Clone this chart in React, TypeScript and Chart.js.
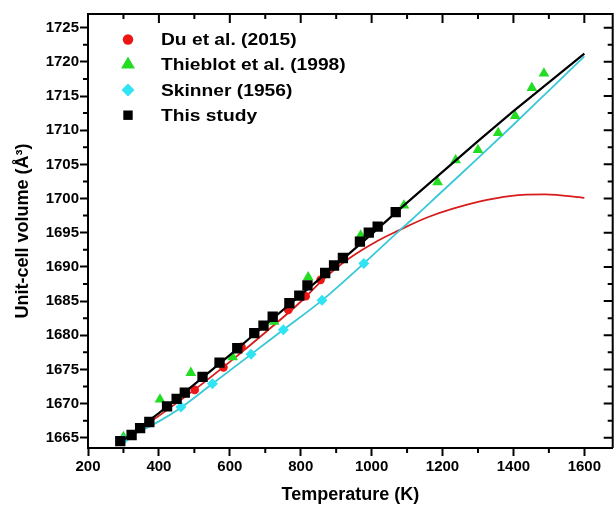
import React, { useEffect, useRef } from "react";
import { Chart, registerables } from "chart.js";

Chart.register(...registerables);

// ---- axes ----
const xRange = [200, 1680];
const yRange = [1663.5, 1727];
const xTicks = [200, 400, 600, 800, 1000, 1200, 1400, 1600];
const xMinorTicks = [300, 500, 700, 900, 1100, 1300, 1500];
const yTicks = [1665, 1670, 1675, 1680, 1685, 1690, 1695, 1700, 1705, 1710, 1715, 1720, 1725];
const yMinorTicks = [1667.5, 1672.5, 1677.5, 1682.5, 1687.5, 1692.5, 1697.5, 1702.5, 1707.5, 1712.5, 1717.5, 1722.5];

const xTitle = "Temperature (K)";
const yTitle = "Unit-cell volume (Å³)";
const seriesNames = ["Du et al. (2015)", "Thieblot et al. (1998)", "Skinner (1956)", "This study"];

// ---- Du et al. (2015) ----
const duT = [501, 582, 633, 765, 814, 856];
const duV = [1672.0, 1675.3, 1678.3, 1683.7, 1685.7, 1688.1];
const duFitT = [290, 400, 500, 600, 700, 800, 860, 930, 1020, 1075, 1160, 1300, 1395, 1490, 1600];
const duFitV = [1664.3, 1668.2, 1672.0, 1676.1, 1680.4, 1684.9, 1688.0, 1691.0, 1693.9, 1695.3, 1697.3, 1699.5, 1700.4, 1700.6, 1700.1];

// ---- Thieblot et al. (1998) ----
const thT = [300, 403, 490, 608, 725, 821, 969, 1091, 1186, 1237, 1300, 1357, 1405, 1452, 1486];
const thV = [1665.1, 1670.6, 1674.5, 1676.8, 1682.0, 1688.5, 1694.6, 1699.0, 1702.4, 1705.6, 1707.1, 1709.6, 1712.1, 1716.2, 1718.3];

// ---- Skinner (1956) ----
const skT = [300, 462, 551, 660, 751, 860, 978];
const skV = [1664.7, 1669.5, 1672.9, 1677.2, 1680.8, 1685.1, 1690.5];
const skFitT = [290, 300, 400, 462, 551, 660, 751, 860, 978, 1076, 1113, 1200, 1300, 1400, 1500, 1600];
const skFitV = [1664.4, 1664.7, 1667.4, 1669.4, 1672.9, 1677.2, 1680.8, 1685.1, 1690.5, 1695.2, 1696.9, 1701.1, 1705.9, 1710.8, 1715.8, 1720.8];

// ---- This study ----
const tsT = [291, 323, 347, 373, 423, 450, 473, 523, 571, 621, 669, 695, 721, 768, 796, 819, 869, 894, 919, 967, 992, 1017, 1068];
const tsV = [1664.5, 1665.4, 1666.4, 1667.3, 1669.6, 1670.7, 1671.6, 1673.9, 1676.0, 1678.1, 1680.3, 1681.4, 1682.7, 1684.7, 1685.8, 1687.3, 1689.1, 1690.2, 1691.3, 1693.7, 1695.0, 1695.9, 1698.0];
const tsFitT = [290, 400, 500, 600, 700, 800, 900, 1000, 1100, 1200, 1300, 1400, 1500, 1600];
const tsFitV = [1664.3, 1668.6, 1672.8, 1677.1, 1681.5, 1685.9, 1690.3, 1694.8, 1699.4, 1703.9, 1708.4, 1712.8, 1717.0, 1721.2];

const pts = (xs: number[], ys: number[]) => xs.map((x, i) => ({ x, y: ys[i] }));

const FONT = "'Liberation Sans', Arial, sans-serif";
const RED = "#ec1515";
const RED_LINE = "#d81c1c";
const GREEN = "#22dd22";
const CYAN = "#30e4f4";
const CYAN_LINE = "#38c8d8";

function drawMarker(ctx: CanvasRenderingContext2D, kind: string, x: number, y: number, r: number, color: string) {
  ctx.fillStyle = color;
  ctx.beginPath();
  if (kind === "circle") {
    ctx.arc(x, y, r, 0, Math.PI * 2);
  } else if (kind === "triangle") {
    const h = r * 1.5;
    const w = r * 1.732;
    ctx.moveTo(x, y - r);
    ctx.lineTo(x + w / 2, y - r + h);
    ctx.lineTo(x - w / 2, y - r + h);
    ctx.closePath();
  } else if (kind === "diamond") {
    ctx.moveTo(x, y - r);
    ctx.lineTo(x + r, y);
    ctx.lineTo(x, y + r);
    ctx.lineTo(x - r, y);
    ctx.closePath();
  } else {
    ctx.rect(x - r, y - r, 2 * r, 2 * r);
  }
  ctx.fill();
}

const framePlugin = {
  id: "frame",
  afterDatasetsDraw(chart: any) {
    const { ctx, chartArea: a, scales } = chart;
    const xs = scales.x;
    const ys = scales.y;
    ctx.save();
    ctx.strokeStyle = "#000";
    ctx.lineWidth = 2;
    ctx.beginPath();
    ctx.moveTo(a.left - 1, a.top);
    ctx.lineTo(a.right, a.top);
    ctx.lineTo(a.right, a.bottom);
    ctx.stroke();
    ctx.lineWidth = 2;
    ctx.beginPath();
    xTicks.forEach((v) => {
      const p = xs.getPixelForValue(v);
      ctx.moveTo(p, a.top);
      ctx.lineTo(p, a.top + 9);
    });
    xMinorTicks.forEach((v) => {
      const p = xs.getPixelForValue(v);
      ctx.moveTo(p, a.top);
      ctx.lineTo(p, a.top + 5);
      ctx.moveTo(p, a.bottom);
      ctx.lineTo(p, a.bottom + 5);
    });
    yTicks.forEach((v) => {
      const p = ys.getPixelForValue(v);
      ctx.moveTo(a.right, p);
      ctx.lineTo(a.right - 9, p);
    });
    yMinorTicks.forEach((v) => {
      const p = ys.getPixelForValue(v);
      ctx.moveTo(a.right, p);
      ctx.lineTo(a.right - 5, p);
      ctx.moveTo(a.left, p);
      ctx.lineTo(a.left - 5, p);
    });
    ctx.stroke();
    ctx.restore();
  },
  afterDraw(chart: any) {
    const { ctx, chartArea: a } = chart;
    const kinds = ["circle", "triangle", "diamond", "square"];
    const colors = [RED, GREEN, CYAN, "#000"];
    const sizes = [5.2, 8, 6.5, 4.7];
    const rowY = [39.5, 64.5, 90, 115.2];
    const mx = a.left + 40;
    const tx = a.left + 73;
    ctx.save();
    seriesNames.forEach((name, i) => {
      drawMarker(ctx, kinds[i], mx, rowY[i], sizes[i], colors[i]);
      ctx.save();
      ctx.translate(tx, rowY[i]);
      ctx.scale(1.13, 1);
      ctx.fillStyle = "#000";
      ctx.font = `bold 17px ${FONT}`;
      ctx.textBaseline = "middle";
      ctx.textAlign = "left";
      ctx.fillText(name, 0, 1);
      ctx.restore();
    });
    ctx.restore();
  },
};

export default function App() {
  const ref = useRef<HTMLCanvasElement | null>(null);

  useEffect(() => {
    if (!ref.current) return;
    const chart = new Chart(ref.current, {
      type: "scatter",
      data: {
        datasets: [
          {
            label: seriesNames[3],
            data: pts(tsT, tsV),
            pointStyle: "rect",
            pointRadius: 7.3,
            backgroundColor: "#000",
            borderColor: "#000",
            borderWidth: 0,
            showLine: false,
            order: 0,
          },
          {
            label: "This study fit",
            data: pts(tsFitT, tsFitV),
            showLine: true,
            pointRadius: 0,
            borderColor: "#000",
            borderWidth: 2.2,
            tension: 0,
            order: 1,
          },
          {
            label: seriesNames[2],
            data: pts(skT, skV),
            pointStyle: "rectRot",
            pointRadius: 5.5,
            backgroundColor: CYAN,
            borderColor: CYAN,
            borderWidth: 0,
            showLine: false,
            order: 2,
          },
          {
            label: seriesNames[1],
            data: pts(thT, thV),
            pointStyle: "triangle",
            pointRadius: 6.2,
            backgroundColor: GREEN,
            borderColor: GREEN,
            borderWidth: 0,
            showLine: false,
            order: 3,
          },
          {
            label: seriesNames[0],
            data: pts(duT, duV),
            pointStyle: "circle",
            pointRadius: 4.3,
            backgroundColor: RED,
            borderColor: RED,
            borderWidth: 0,
            showLine: false,
            order: 4,
          },
          {
            label: "Skinner fit",
            data: pts(skFitT, skFitV),
            showLine: true,
            pointRadius: 0,
            borderColor: CYAN_LINE,
            borderWidth: 1.8,
            cubicInterpolationMode: "monotone",
            order: 5,
          },
          {
            label: "Du fit",
            data: pts(duFitT, duFitV),
            showLine: true,
            pointRadius: 0,
            borderColor: RED_LINE,
            borderWidth: 1.8,
            cubicInterpolationMode: "monotone",
            order: 6,
          },
        ],
      },
      options: {
        animation: false,
        responsive: false,
        maintainAspectRatio: false,
        devicePixelRatio: 1,
        layout: { padding: { left: 0, right: 4.7, top: 14, bottom: 0 } },
        plugins: { legend: { display: false }, tooltip: { enabled: false } },
        scales: {
          x: {
            type: "linear",
            min: xRange[0],
            max: xRange[1],
            afterBuildTicks: (s: any) => {
              s.ticks = xTicks.map((v) => ({ value: v }));
            },
            afterFit: (s: any) => {
              s.height = 58;
            },
            ticks: {
              color: "#000",
              font: { family: FONT, size: 15, weight: "bold" },
              padding: 2,
              maxRotation: 0,
              autoSkip: false,
              callback: (v: any) => String(v),
            },
            grid: {
              display: true,
              drawOnChartArea: false,
              drawTicks: true,
              tickLength: 8,
              tickWidth: 2,
              tickColor: "#000",
            },
            border: { display: true, color: "#000", width: 2 },
            title: {
              display: true,
              text: xTitle,
              color: "#000",
              font: { family: FONT, size: 18, weight: "bold" },
              padding: { top: 0, bottom: 0 },
            },
          },
          y: {
            type: "linear",
            min: yRange[0],
            max: yRange[1],
            afterBuildTicks: (s: any) => {
              s.ticks = yTicks.map((v) => ({ value: v }));
            },
            afterFit: (s: any) => {
              s.width = 88;
            },
            ticks: {
              color: "#000",
              font: { family: FONT, size: 15, weight: "bold" },
              padding: 1,
              autoSkip: false,
              callback: (v: any) => String(v),
            },
            grid: {
              display: true,
              drawOnChartArea: false,
              drawTicks: true,
              tickLength: 8,
              tickWidth: 2,
              tickColor: "#000",
            },
            border: { display: true, color: "#000", width: 2 },
            title: {
              display: true,
              text: yTitle,
              color: "#000",
              font: { family: FONT, size: 18, weight: "bold" },
              padding: { top: 12, bottom: 0 },
            },
          },
        },
      } as any,
      plugins: [framePlugin],
    });
    return () => chart.destroy();
  }, []);

  return (
    <div style={{ position: "fixed", left: 0, top: 0, width: 614, height: 506, overflow: "hidden", background: "#fff" }}>
      <canvas ref={ref} width={620} height={506} style={{ width: 620, height: 506, display: "block" }} />
    </div>
  );
}
